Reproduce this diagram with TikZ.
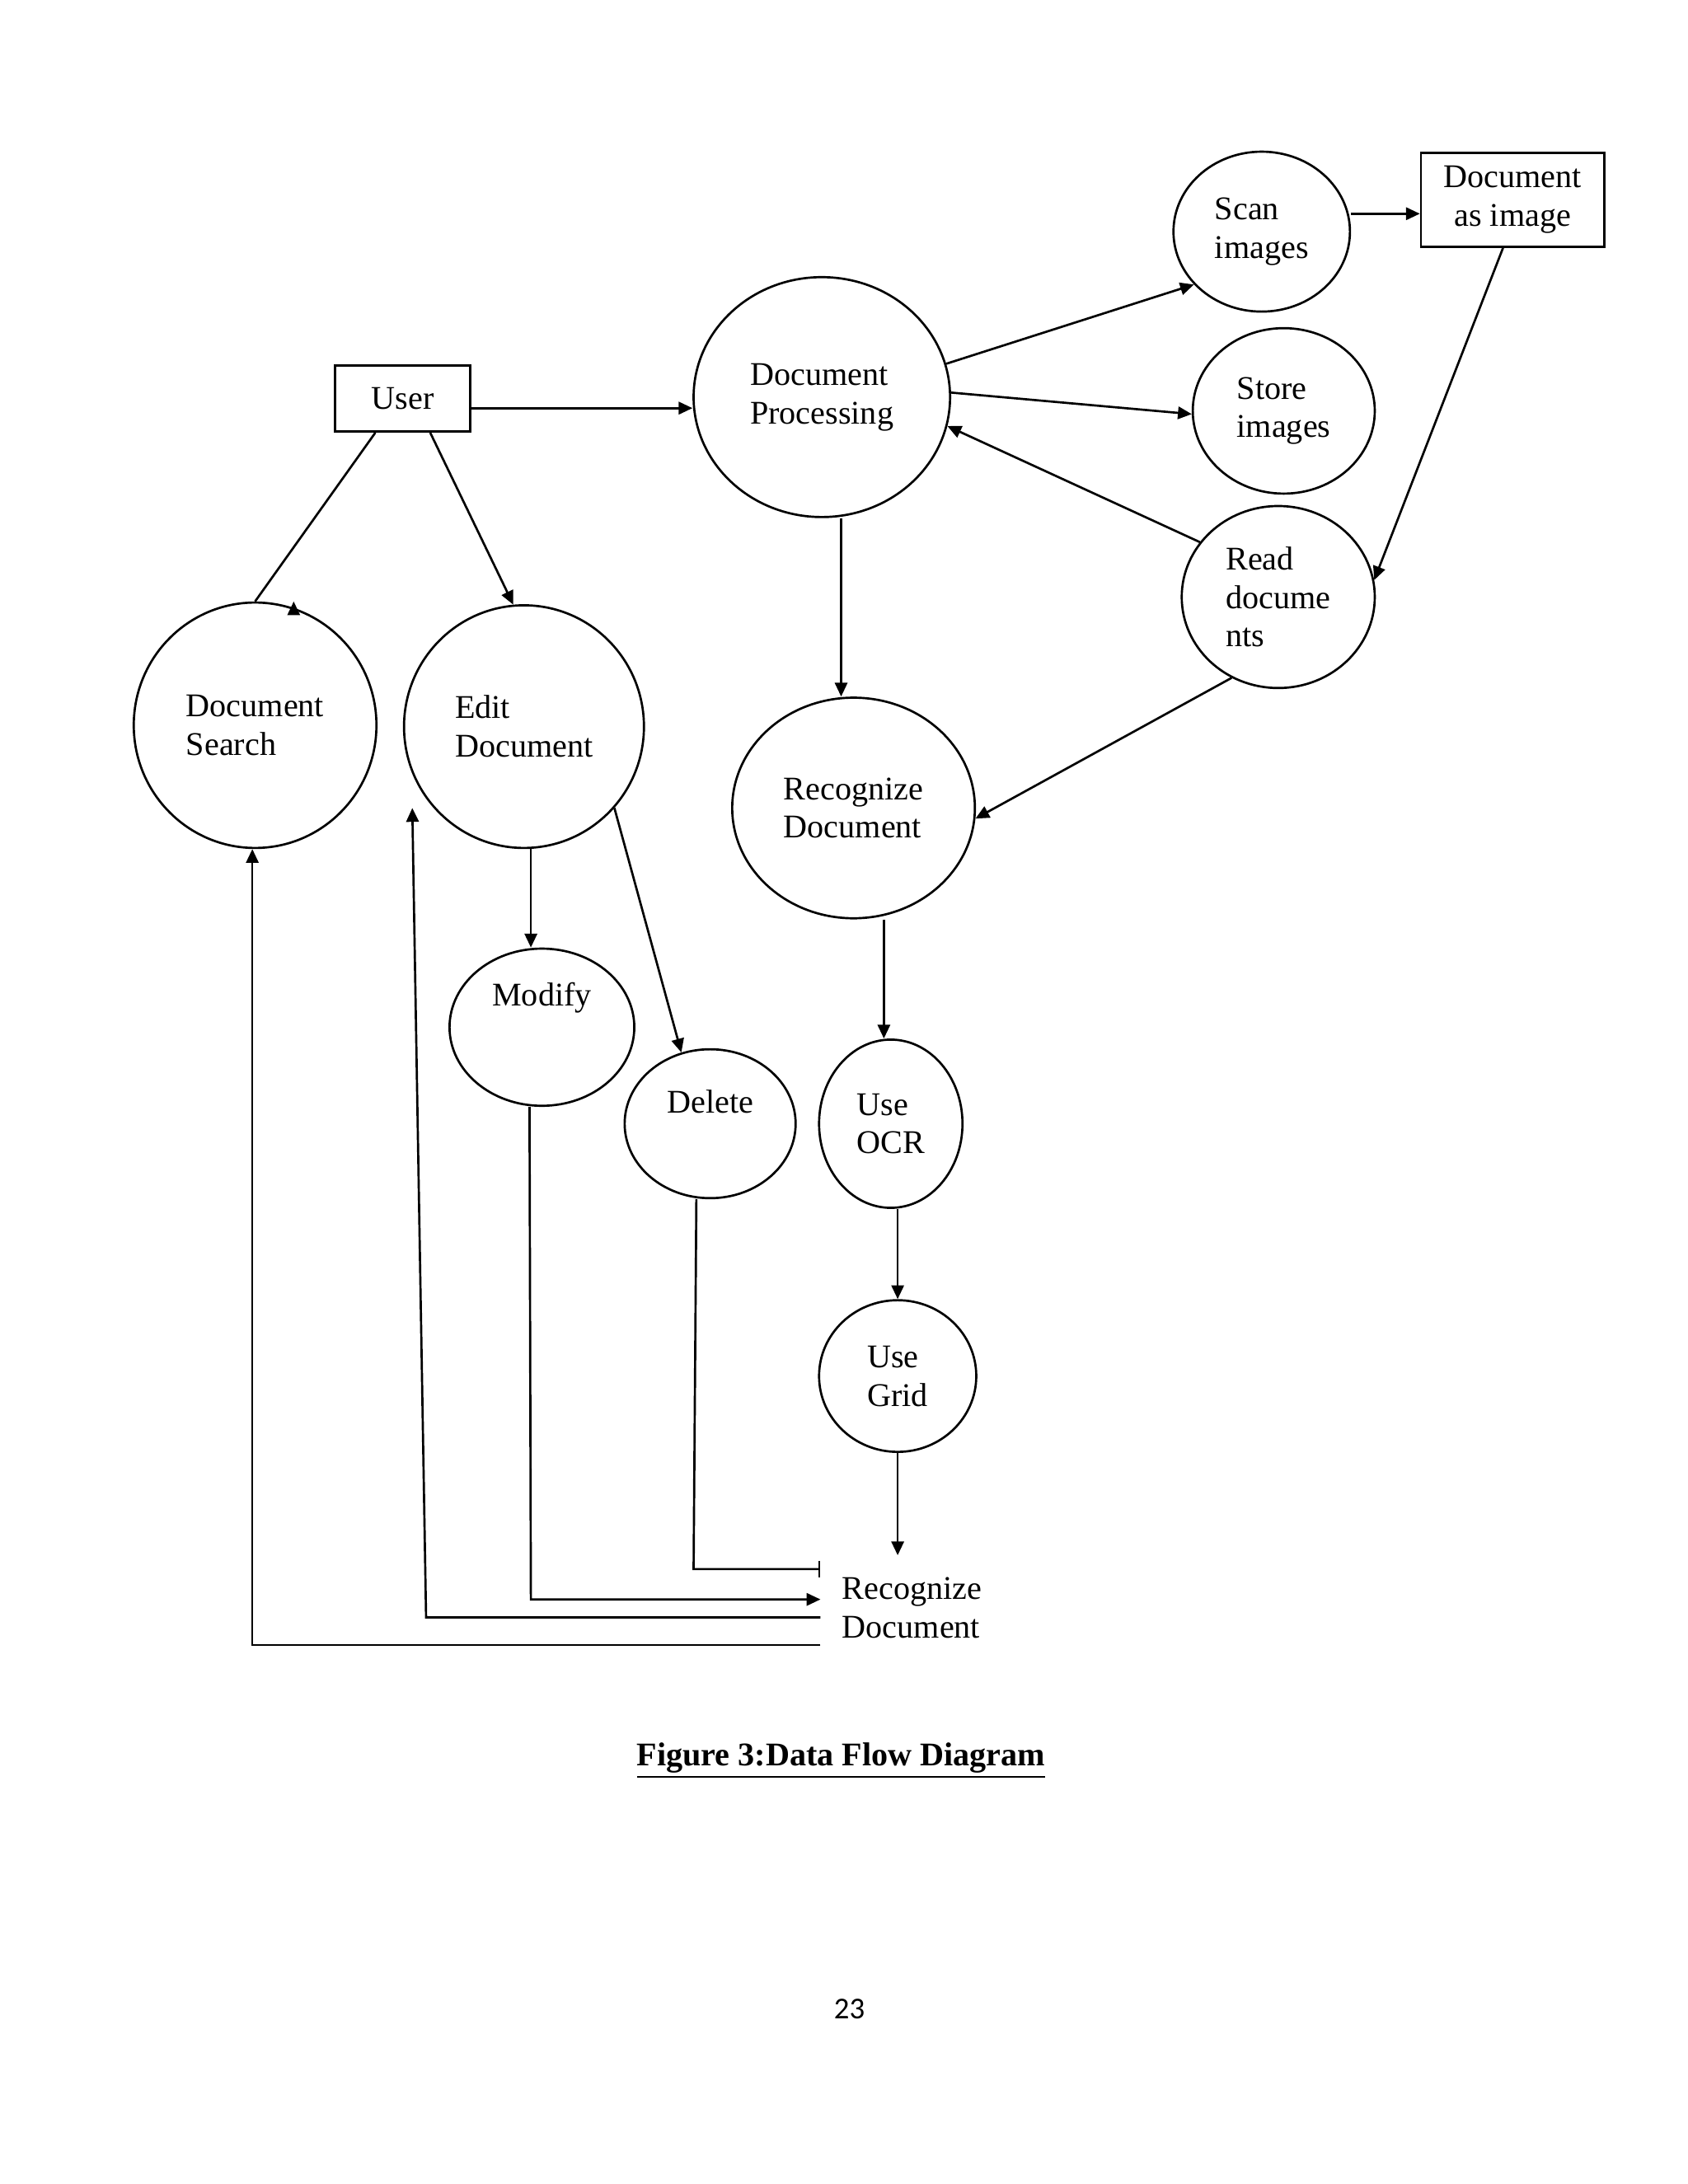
\documentclass[tikz,border=0pt]{standalone}
\usepackage{fontspec}
\setmainfont{Liberation Serif}
\newfontfamily\pagefont{Carlito}
\usetikzlibrary{shapes.geometric,arrows.meta}

\begin{document}
\begin{tikzpicture}[x=0.5pt, y=-0.5pt, line width=0.8pt, font=\fontsize{12}{14}\selectfont,
    proc/.style={draw, ellipse, inner sep=0pt, align=left},
    store/.style={draw, rectangle, inner sep=0pt, align=center},
    flow/.style={-{Triangle[length=5pt, width=4.5pt]}},
    stub/.style={-{Bar[width=6pt]}}
  ]
  \useasboundingbox (0,0) rectangle (1224,1584);

  % external entities
  \node [store, minimum width=49pt, minimum height=24pt] (user) at (292,289) {User};
  \node [store, minimum width=66.5pt, minimum height=34pt] (docimg) at (1097,145) {Document\\as image};

  % processes
  \node [proc, minimum width=93pt, minimum height=87pt] (proc) at (596,288) {Document\\Processing};
  \node [proc, minimum width=64pt, minimum height=58pt] (scan) at (915,168) {Scan\\images};
  \node [proc, minimum width=66pt, minimum height=60pt] (storeimg) at (931,298) {Store\\images};
  \node [proc, minimum width=70pt, minimum height=66pt] (read) at (927,433) {Read\\docume\\nts};
  \node [proc, minimum width=88pt, minimum height=89pt] (search) at (185,526) {Document\\Search};
  \node [proc, minimum width=87pt, minimum height=88pt] (edit) at (380,527) {Edit\\Document};
  \node [proc, minimum width=88pt, minimum height=80pt] (recog) at (619,586) {Recognize\\Document};
  \node [proc, minimum width=67pt, minimum height=57pt] (modify) at (393,745) {\raisebox{24pt}{Modify}};
  \node [proc, minimum width=62pt, minimum height=54pt] (delete) at (515,815) {\raisebox{16pt}{Delete}};
  \node [proc, minimum width=52pt, minimum height=61pt] (ocr) at (646,815) {Use\\OCR};
  \node [proc, minimum width=57pt, minimum height=55pt] (grid) at (651,998) {Use\\Grid};
  \node [align=left, anchor=west, inner sep=0pt] (recout) at (610,1166) {Recognize\\Document};

  \coordinate (outa) at (595,1138);
  \coordinate (outb) at (595,1160);
  \coordinate (outc) at (595,1173);
  \coordinate (outd) at (595,1193);

  % flows
  \draw [flow] (user.east |- 0,296) -- (proc.west |- 0,296);
  \draw [flow] (user.south west) ++(30,0) -- (search.north) ++(28,0);
  \draw [flow] ([xshift=10pt]user.south) -- ([yshift=0pt]edit.95);
  \draw [flow] (proc.15) -- (scan.218);
  \draw [flow] (proc.2) -- (storeimg.182);
  \draw [flow] (scan.east |- 0,155) -- (docimg.west |- 0,155);
  \draw [flow] ([xshift=-3.5pt]docimg.south) -- (read.10);
  \draw [flow] (read.145) -- (proc.347);
  \draw [flow] (read.240) -- (recog.355);
  \draw [flow] (proc.south -| 610,0) -- (recog.north -| 610,0);
  \draw [flow] (recog.south -| 641,0) -- (ocr.north -| 641,0);
  \draw [flow] (ocr.south -| 651,0) -- (grid.north);
  \draw [flow] (grid.south) -- (651,1128);
  \draw [flow] (edit.south -| 385,0) -- (modify.north -| 385,0);
  \draw [flow] (edit.318) -- (delete.112);
  \draw [stub] (delete.south -| 505,0) -- (503,1138) -- (outa);
  \draw [flow] (modify.south -| 384,0) -- (385,1160) -- (outb);
  \draw [flow] (outc) -- (309,1173) -- (edit.222 -| 299,0);
  \draw [flow] (outd) -- (183,1193) -- (search.south -| 183,0);

  \node [font=\fontsize{12}{14}\selectfont\bfseries] (caption) at (610,1277) {\underline{Figure 3:Data Flow Diagram}};
  \node [font=\pagefont\fontsize{11}{13}\selectfont] (pagenum) at (616,1457) {23};
\end{tikzpicture}
\end{document}
